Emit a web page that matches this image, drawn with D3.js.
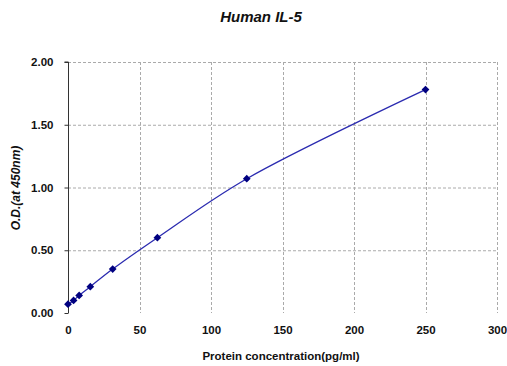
<!DOCTYPE html>
<html>
<head>
<meta charset="utf-8">
<script src="https://cdn.jsdelivr.net/npm/d3@7"></script>
<style>
  body { margin: 0; background: #fff; }
  svg { font-family: "Liberation Sans", Arial, sans-serif; }
</style>
</head>
<body>
<svg id="chart"></svg>
<script>
// standard curve values
const concentrations = [0, 3.9, 7.8, 15.6, 31.25, 62.5, 125, 250];
const odValues = [0.07, 0.10, 0.14, 0.21, 0.35, 0.60, 1.07, 1.78];
const xTicks = [0, 50, 100, 150, 200, 250, 300];
const yTicks = [0, 0.5, 1.0, 1.5, 2.0];

const width = 507, height = 366;
const margin = {top: 62, right: 10, bottom: 53, left: 68};

const svg = d3.select("#chart")
    .attr("width", width)
    .attr("height", height);

const x = d3.scaleLinear().domain([0, 300]).range([margin.left, width - margin.right]);
const y = d3.scaleLinear().domain([0, 2]).range([height - margin.bottom, margin.top]);

const points = concentrations.map((c, i) => ({x: c, y: odValues[i]}));

// grid
svg.append("g")
    .selectAll("line")
    .data(yTicks.filter(d => d > 0))
    .enter()
    .append("line")
    .attr("x1", margin.left)
    .attr("x2", x(300))
    .attr("y1", d => y(d) + 0.5)
    .attr("y2", d => y(d) + 0.5)
    .attr("stroke", "#aaa")
    .attr("stroke-dasharray", "3,2");

svg.append("g")
    .selectAll("line")
    .data(xTicks.filter(d => d > 0))
    .enter()
    .append("line")
    .attr("x1", d => Math.round(x(d)) + 0.5)
    .attr("x2", d => Math.round(x(d)) + 0.5)
    .attr("y1", y(2))
    .attr("y2", y(0))
    .attr("stroke", "#aaa")
    .attr("stroke-dasharray", "3,2");

// left axis
const yAxis = d3.axisLeft(y).tickValues(yTicks).tickFormat(d3.format(".2f")).tickSize(4).tickPadding(11);
const gy = svg.append("g")
    .attr("transform", `translate(${margin.left + 0.5},0)`)
    .call(yAxis);
gy.select(".domain").attr("stroke", "#333").attr("d", `M-4,${y(2)}H0V${y(0)}`);
gy.selectAll(".tick line").attr("stroke", "#333");
gy.selectAll("text").attr("font-size", 11.5).attr("font-weight", "bold").attr("fill", "#111")
    .attr("font-family", "Liberation Sans, Arial, sans-serif");

// bottom labels (no axis line)
const xAxis = d3.axisBottom(x).tickValues(xTicks).tickSize(0).tickPadding(13);
const gx = svg.append("g")
    .attr("transform", `translate(0,${y(0)})`)
    .call(xAxis);
gx.select(".domain").remove();
gx.selectAll("text").attr("font-size", 11.5).attr("font-weight", "bold").attr("fill", "#111")
    .attr("font-family", "Liberation Sans, Arial, sans-serif");

// fitted curve
const line = d3.line()
    .x(d => x(d.x))
    .y(d => y(d.y))
    .curve(d3.curveCatmullRom.alpha(0.5));

svg.append("path")
    .datum(points)
    .attr("d", line)
    .attr("fill", "none")
    .attr("stroke", "#2b2bb0")
    .attr("stroke-width", 1.3);

// diamond markers (square turned 45 degrees)
svg.append("g")
    .selectAll("path")
    .data(points)
    .enter()
    .append("path")
    .attr("d", d3.symbol().type(d3.symbolSquare).size(30))
    .attr("transform", d => `translate(${x(d.x)},${y(d.y)}) rotate(45)`)
    .attr("fill", "#000080");

// titles
svg.append("text")
    .attr("x", 261)
    .attr("y", 22)
    .attr("text-anchor", "middle")
    .attr("font-size", 15)
    .attr("font-weight", "bold")
    .attr("font-style", "italic")
    .attr("fill", "#111")
    .text("Human IL-5");

svg.append("text")
    .attr("x", 281)
    .attr("y", 360)
    .attr("text-anchor", "middle")
    .attr("font-size", 11.5)
    .attr("font-weight", "bold")
    .attr("fill", "#111")
    .text("Protein concentration(pg/ml)");

svg.append("text")
    .attr("transform", "translate(20,188) rotate(-90)")
    .attr("text-anchor", "middle")
    .attr("font-size", 12)
    .attr("font-weight", "bold")
    .attr("font-style", "italic")
    .attr("fill", "#111")
    .text("O.D.(at 450nm)");
</script>
</body>
</html>
